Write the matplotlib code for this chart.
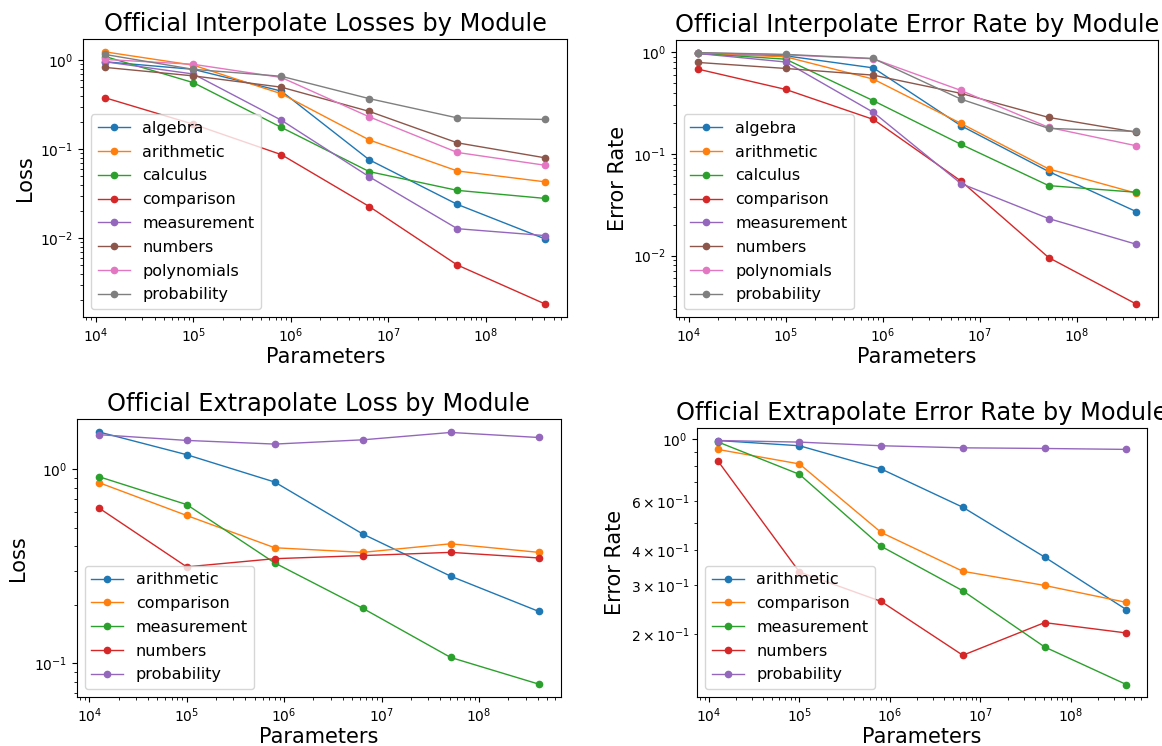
import matplotlib
matplotlib.use("Agg")
import matplotlib.pyplot as plt

# Model sizes (number of parameters)
params = [12500, 100000, 800000, 6400000, 51200000, 409600000]

# Interpolate split: loss per module
interp_modules = ["algebra", "arithmetic", "calculus", "comparison",
                  "measurement", "numbers", "polynomials", "probability"]
interp_loss_algebra = [0.96, 0.79, 0.45, 0.076, 0.024, 0.0098]
interp_loss_arithmetic = [1.24, 0.88, 0.42, 0.127, 0.057, 0.043]
interp_loss_calculus = [1.10, 0.56, 0.176, 0.056, 0.0345, 0.028]
interp_loss_comparison = [0.378, 0.191, 0.087, 0.0227, 0.0050, 0.00182]
interp_loss_measurement = [0.96, 0.70, 0.212, 0.049, 0.0128, 0.0107]
interp_loss_numbers = [0.83, 0.667, 0.498, 0.266, 0.118, 0.080]
interp_loss_polynomials = [1.02, 0.90, 0.64, 0.231, 0.092, 0.066]
interp_loss_probability = [1.16, 0.79, 0.66, 0.37, 0.225, 0.216]

# Interpolate split: error rate per module
interp_err_algebra = [0.97, 0.92, 0.70, 0.189, 0.067, 0.027]
interp_err_arithmetic = [0.97, 0.90, 0.543, 0.199, 0.071, 0.041]
interp_err_calculus = [0.97, 0.853, 0.333, 0.124, 0.0487, 0.0419]
interp_err_comparison = [0.681, 0.430, 0.218, 0.054, 0.00955, 0.00333]
interp_err_measurement = [0.97, 0.80, 0.256, 0.051, 0.0231, 0.0129]
interp_err_numbers = [0.792, 0.691, 0.594, 0.393, 0.228, 0.163]
interp_err_polynomials = [0.985, 0.94, 0.86, 0.42, 0.182, 0.120]
interp_err_probability = [0.99, 0.95, 0.866, 0.345, 0.178, 0.166]

# Extrapolate split: loss per module
extrap_modules = ["arithmetic", "comparison", "measurement", "numbers", "probability"]
extrap_loss_arithmetic = [1.56, 1.19, 0.86, 0.464, 0.281, 0.185]
extrap_loss_comparison = [0.855, 0.578, 0.394, 0.373, 0.413, 0.373]
extrap_loss_measurement = [0.917, 0.658, 0.329, 0.192, 0.107, 0.078]
extrap_loss_numbers = [0.633, 0.314, 0.346, 0.359, 0.373, 0.349]
extrap_loss_probability = [1.51, 1.41, 1.35, 1.42, 1.55, 1.46]

# Extrapolate split: error rate per module
extrap_err_arithmetic = [0.989, 0.947, 0.782, 0.570, 0.378, 0.245]
extrap_err_comparison = [0.919, 0.815, 0.463, 0.336, 0.299, 0.260]
extrap_err_measurement = [0.978, 0.748, 0.413, 0.286, 0.180, 0.132]
extrap_err_numbers = [0.837, 0.334, 0.262, 0.168, 0.220, 0.202]
extrap_err_probability = [0.989, 0.976, 0.947, 0.931, 0.926, 0.919]

panels = [
    ("Official Interpolate Losses by Module", "Loss", interp_modules,
     [interp_loss_algebra, interp_loss_arithmetic, interp_loss_calculus,
      interp_loss_comparison, interp_loss_measurement, interp_loss_numbers,
      interp_loss_polynomials, interp_loss_probability],
     (83.3, 39.3, 567.3, 316.7)),
    ("Official Interpolate Error Rate by Module", "Error Rate", interp_modules,
     [interp_err_algebra, interp_err_arithmetic, interp_err_calculus,
      interp_err_comparison, interp_err_measurement, interp_err_numbers,
      interp_err_polynomials, interp_err_probability],
     (676.0, 40.0, 1158.3, 316.7)),
    ("Official Extrapolate Loss by Module", "Loss", extrap_modules,
     [extrap_loss_arithmetic, extrap_loss_comparison, extrap_loss_measurement,
      extrap_loss_numbers, extrap_loss_probability],
     (76.7, 419.3, 560.7, 696.7)),
    ("Official Extrapolate Error Rate by Module", "Error Rate", extrap_modules,
     [extrap_err_arithmetic, extrap_err_comparison, extrap_err_measurement,
      extrap_err_numbers, extrap_err_probability],
     (697.3, 428.3, 1146.7, 696.7)),
]

W, H = 1162, 746
fig = plt.figure(figsize=(W / 100, H / 100), dpi=100)

for title, ylabel, names, series, (x0, y0, x1, y1) in panels:
    ax = fig.add_axes([x0 / W, 1 - y1 / H, (x1 - x0) / W, (y1 - y0) / H])
    for name, vals in zip(names, series):
        ax.plot(params, vals, marker="o", markersize=4.5, linewidth=1.0, label=name)
    ax.set_xscale("log")
    ax.set_yscale("log")
    ax.set_title(title, fontsize=17.3)
    ax.set_xlabel("Parameters", fontsize=15, labelpad=1.2)
    ax.set_ylabel(ylabel, fontsize=15)
    ax.tick_params(labelsize=10)
    ax.legend(loc="lower left", fontsize=11.5, labelspacing=0.55)

fig.savefig("out.png", dpi=100)
